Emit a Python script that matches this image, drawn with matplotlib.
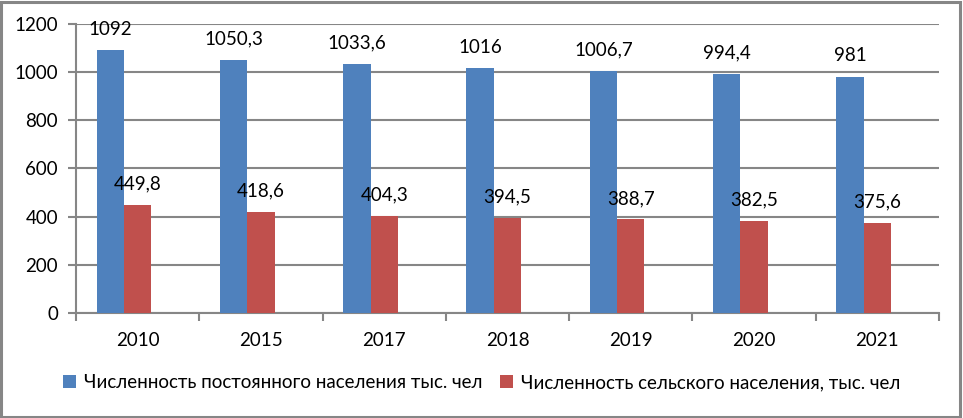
import numpy as np
import matplotlib.pyplot as plt
from matplotlib.patches import Rectangle

years = ["2010", "2015", "2017", "2018", "2019", "2020", "2021"]
permanent = [1092, 1050.3, 1033.6, 1016, 1006.7, 994.4, 981]
rural = [449.8, 418.6, 404.3, 394.5, 388.7, 382.5, 375.6]
permanent_labels = ["1092", "1050,3", "1033,6", "1016", "1006,7", "994,4", "981"]
rural_labels = ["449,8", "418,6", "404,3", "394,5", "388,7", "382,5", "375,6"]

BLUE = "#4F81BD"
RED = "#C0504D"
GRID = "#868686"
FS = 13.5

plt.rcParams["font.family"] = ["Lato", "DejaVu Sans"]

fig = plt.figure(figsize=(9.63, 4.18), dpi=100)
ax = fig.add_axes([0.0789, 0.2512, 0.8962, 0.6914])

x = np.arange(len(years))
w = 1 / 4.5  # Excel layout: 3 series slots, gap width 150%
b1 = ax.bar(x - w, permanent, w, color=BLUE, label="Численность постоянного населения тыс. чел", zorder=3)
b2 = ax.bar(x, rural, w, color=RED, label="Численность сельского населения, тыс. чел", zorder=3)

for bars, labels in [(b1, permanent_labels), (b2, rural_labels)]:
    for bar, lab in zip(bars, labels):
        ax.annotate(lab, (bar.get_x() + bar.get_width() / 2, bar.get_height()),
                    xytext=(0, 15), textcoords="offset points",
                    ha="center", va="center", fontsize=FS, color="black", zorder=4)

ax.set_xlim(-0.5, len(years) - 0.5)
ax.set_ylim(0, 1200)
ax.set_yticks(range(0, 1201, 200))
ax.set_xticks(x)
ax.set_xticklabels(years)
ax.set_xticks(np.arange(-0.5, len(years)), minor=True)
ax.tick_params(axis="x", which="major", length=0, pad=14, labelsize=FS)
ax.tick_params(axis="x", which="minor", length=6, width=1.5, color=GRID, direction="out")
ax.tick_params(axis="y", length=6, width=1.5, color=GRID, pad=7, labelsize=FS)

ax.grid(axis="y", color=GRID, linewidth=1.5, zorder=0)
for side in ["top", "right"]:
    ax.spines[side].set_visible(False)
for side in ["left", "bottom"]:
    ax.spines[side].set_color(GRID)
    ax.spines[side].set_linewidth(1.5)

ax.legend(loc="center", bbox_to_anchor=(0.5, 0.0838), bbox_transform=fig.transFigure,
          ncol=2, frameon=False, fontsize=FS, handlelength=0.7, handleheight=0.7,
          handletextpad=0.45, columnspacing=0.9)

# chart border like the Excel frame
fig.patches.append(Rectangle((0.001, 0.002), 0.996, 0.994, transform=fig.transFigure,
                             fill=False, edgecolor=GRID, linewidth=2.2))

fig.savefig("out.png", dpi=100)
